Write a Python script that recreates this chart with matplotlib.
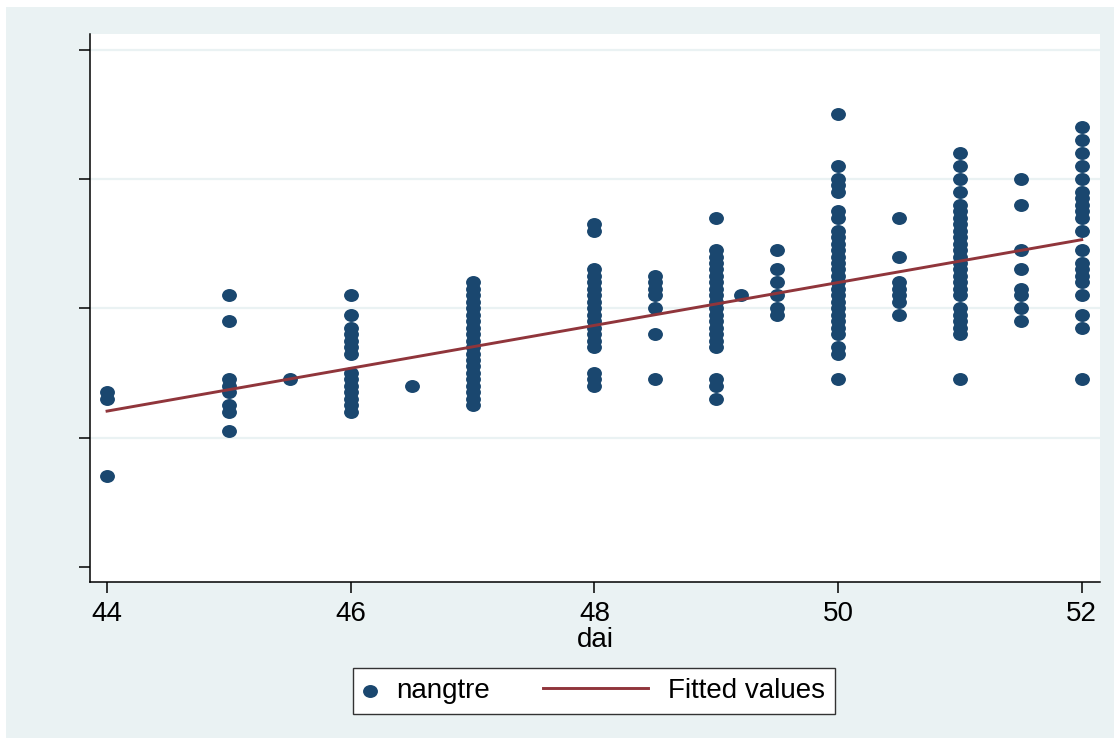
import numpy as np
import matplotlib.pyplot as plt
from matplotlib.patches import Rectangle
from matplotlib.path import Path
from matplotlib.legend_handler import HandlerLine2D

plt.rcParams['font.family'] = ['Liberation Sans', 'DejaVu Sans']

# nangtre values observed at each dai value
dai_levels = [44, 45, 45.5, 46, 46.5, 47, 48, 48.5, 49, 49.2, 49.5, 50, 50.5, 51, 51.5, 52]
nangtre_by_dai = [
    [13.5, 13.0, 7.0],
    [21, 19, 14.5, 14, 13.5, 12.5, 12, 10.5],
    [14.5],
    [21, 19.5, 18.5, 18, 17.5, 17, 16.5, 15, 14.5, 14, 13.5, 13, 12.5, 12],
    [14],
    [22, 21.5, 21, 20.5, 20, 19.5, 19, 18.5, 18, 17.5, 17, 16.5, 16, 15.5, 15,
     14.5, 14, 13.5, 13, 12.5],
    [26.5, 26, 23, 22.5, 22, 21.5, 21, 20.5, 20, 19.5, 19, 18.5, 18, 17.5, 17,
     15, 14.5, 14],
    [22.5, 22, 21.5, 21, 20, 18, 14.5],
    [27, 24.5, 24, 23.5, 23, 22.5, 22, 21.5, 21, 20.5, 20, 19.5, 19, 18.5, 18,
     17.5, 17, 14.5, 14, 13],
    [21],
    [24.5, 23, 22, 21, 20, 19.5],
    [35, 31, 30, 29.5, 29, 27.5, 27, 26, 25.5, 25, 24.5, 24, 23.5, 23, 22.5, 22,
     21.5, 21, 20.5, 20, 19.5, 19, 18.5, 18, 17, 16.5, 14.5],
    [27, 24, 22, 21.5, 21, 20.5, 19.5],
    [32, 31, 30, 29, 28, 27.5, 27, 26.5, 26, 25.5, 25, 24.5, 24, 23.5, 23, 22.5,
     22, 21.5, 21, 20, 19.5, 19, 18.5, 18, 14.5],
    [30, 28, 24.5, 23, 21.5, 21, 20, 19],
    [34, 33, 32, 31, 30, 29, 28.5, 28, 27.5, 27, 26, 24.5, 23.5, 23, 22.5, 22,
     21, 19.5, 18.5, 14.5],
]

# fitted values at the ends of the dai range
fit_dai = [44, 52]
fit_values = [12.05, 25.3]

xticks = [44, 46, 48, 50, 52]
yticks = [0, 10, 20, 30, 40]

navy = '#1a476f'
maroon = '#90353b'
bg = '#eaf2f3'

xs = []
ys = []
for d, vals in zip(dai_levels, nangtre_by_dai):
    xs.extend([d] * len(vals))
    ys.extend(vals)

# slightly wide dot, like the stretched Stata markers
circ = Path.unit_circle()
oval = Path(circ.vertices * [1.15, 1.0], circ.codes)

fig = plt.figure(figsize=(11.2, 7.42), dpi=100)
fig.patch.set_facecolor('white')
fig.patches.append(Rectangle((6 / 1120, 4 / 742), 1108 / 1120, 731 / 742,
                             transform=fig.transFigure, facecolor=bg,
                             edgecolor='none', zorder=-10))

ax = fig.add_axes([90 / 1120, 1 - 582 / 742, 1010 / 1120, 548 / 742])
ax.set_facecolor('white')

ax.scatter(xs, ys, s=115, marker=oval, color=navy, linewidths=0, zorder=3,
           label='nangtre')
ax.plot(fit_dai, fit_values, color=maroon, lw=2.1, zorder=4, label='Fitted values')

ax.set_xlim(43.86, 52.15)
ax.set_ylim(-1.16, 41.2)
ax.set_xticks(xticks)
ax.set_yticks(yticks)
ax.set_yticklabels([])
for v in yticks[1:]:
    ax.axhline(v, color=bg, lw=1.6, zorder=1)

ax.spines['top'].set_visible(False)
ax.spines['right'].set_visible(False)
ax.spines['left'].set_linewidth(1.1)
ax.spines['bottom'].set_linewidth(1.1)
ax.tick_params(axis='both', length=8, width=1.1, labelsize=20, pad=6)
ax.set_xlabel('dai', fontsize=20, labelpad=0)


class LongLine(HandlerLine2D):
    def legend_artist(self, legend, orig_handle, fontsize, handlebox):
        handlebox.width = 3.8 * fontsize
        return super().legend_artist(legend, orig_handle, fontsize, handlebox)


handles, labels = ax.get_legend_handles_labels()
leg = fig.legend(handles, labels, loc='center', ncol=2,
                 bbox_to_anchor=(594 / 1120, 1 - 691 / 742),
                 fontsize=20, frameon=True, fancybox=False, framealpha=1,
                 handlelength=0.5, handletextpad=0.7, columnspacing=1.9,
                 borderpad=0.35, scatterpoints=1,
                 handler_map={handles[1]: LongLine()})
leg.get_frame().set_facecolor('white')
leg.get_frame().set_edgecolor('#333333')
leg.get_frame().set_linewidth(1.0)

fig.savefig('out.png', dpi=100, facecolor=fig.get_facecolor())
